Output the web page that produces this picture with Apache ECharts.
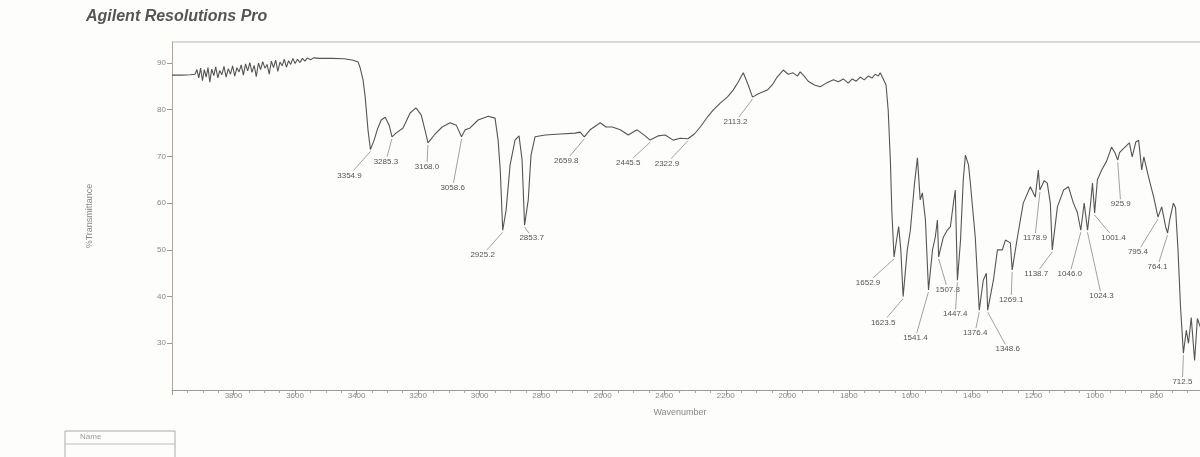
<!DOCTYPE html>
<html lang="en" style="height: 100%">
<head>
  <meta charset="utf-8">
  <script src="https://cdn.jsdelivr.net/npm/echarts/dist/echarts.min.js"></script>
</head>
<body style="height: 100%; margin: 0; background: #fdfdfb">
  <div id="container" style="height: 100%"></div>

  <script type="text/javascript">
    // spectrum (wavenumber cm-1, %T)
    var wavenumber = [
      4000, 3968, 3940, 3925, 3919, 3913, 3907, 3901, 3895, 3889, 3883, 3877, 3871, 3864, 3858, 3851,
      3845, 3838, 3831, 3824, 3817, 3810, 3803, 3796, 3789, 3782, 3775, 3768, 3761, 3754, 3747, 3740,
      3733, 3726, 3719, 3712, 3705, 3698, 3691, 3684, 3677, 3670, 3663, 3656, 3649, 3642, 3635, 3628,
      3621, 3614, 3607, 3600, 3592, 3584, 3576, 3568, 3560, 3550, 3540, 3520, 3480, 3440, 3411, 3395,
      3389, 3379, 3372, 3363, 3355, 3343, 3333, 3320, 3307, 3294, 3285, 3272, 3249, 3226, 3207, 3190,
      3176, 3168, 3145, 3122, 3096, 3076, 3059, 3047, 3031, 3005, 2972, 2950, 2940, 2933, 2925, 2914,
      2901, 2885, 2872, 2862, 2854, 2842, 2833, 2820, 2787, 2738, 2690, 2673, 2660, 2641, 2608, 2589,
      2569, 2543, 2517, 2488, 2462, 2446, 2420, 2397, 2371, 2348, 2323, 2302, 2283, 2260, 2241, 2218,
      2195, 2176, 2160, 2143, 2127, 2113, 2094, 2065, 2049, 2033, 2013, 1997, 1981, 1967, 1958, 1945,
      1932, 1912, 1893, 1873, 1850, 1834, 1818, 1802, 1789, 1776, 1763, 1750, 1737, 1724, 1714, 1704,
      1698, 1688, 1679, 1672, 1665, 1660, 1653, 1645, 1638, 1631, 1623.5, 1610, 1600, 1587, 1577, 1568,
      1561, 1551, 1541, 1528, 1519, 1512, 1508, 1493, 1480, 1470, 1460, 1454, 1447, 1437, 1428, 1421,
      1411, 1405, 1389, 1376, 1363, 1353, 1348.6, 1330, 1317, 1301, 1291, 1275, 1269, 1252, 1233, 1210,
      1194, 1184, 1179, 1165, 1155, 1145, 1138.7, 1122, 1102, 1086, 1070, 1057, 1046, 1035, 1024, 1014,
      1008, 1001, 992, 978, 962, 946, 935, 926, 920, 910, 888, 879, 867, 858, 848, 841,
      826, 809, 795, 783, 770, 764, 757, 745, 738, 730, 722, 712.5, 703, 696, 687, 676,
      667, 655, 645
    ];
    var transmittance = [
      87.4, 87.4, 87.5, 87.6, 88.6, 86.8, 88.9, 86.2, 88.6, 87.0, 89.0, 85.9, 88.7, 87.3, 89.2, 86.8,
      88.4, 87.5, 89.3, 87.0, 88.8, 87.6, 89.4, 87.2, 89.0, 88.1, 89.6, 87.4, 89.8, 88.3, 90.1, 88.0,
      89.5, 87.1, 90.0, 88.6, 90.3, 88.9, 89.7, 87.6, 90.4, 89.0, 90.6, 88.2, 90.2, 89.4, 90.8, 89.1,
      90.5, 89.7, 91.0, 89.9, 90.8, 90.1, 91.0, 90.4, 91.1, 90.7, 91.1, 91.0, 91.0, 90.9, 90.6, 90.2,
      89.1, 86.4, 82.7, 75.7, 71.5, 73.5, 75.7, 77.8, 78.4, 76.7, 74.2, 75.0, 76.1, 79.3, 80.4, 78.9,
      75.2, 72.9, 74.8, 76.3, 77.2, 76.7, 74.2, 75.7, 76.1, 77.8, 78.6, 78.2, 73.5, 67.1, 54.2, 58.5,
      68.2, 73.5, 74.4, 69.2, 55.3, 60.7, 70.3, 74.2, 74.6, 74.8, 75.0, 75.2, 74.2, 75.7, 77.2, 76.3,
      76.3, 75.7, 74.6, 75.7, 74.4, 73.5, 74.4, 74.6, 73.5, 73.9, 73.8, 74.8, 76.3, 78.4, 79.9, 81.4,
      82.7, 84.2, 85.9, 87.9, 85.3, 82.7, 83.4, 84.2, 85.3, 87.0, 88.5, 87.6, 87.9, 87.2, 88.1, 87.2,
      86.1, 85.3, 84.9, 85.7, 86.4, 86.0, 86.6, 85.7, 86.6, 86.1, 87.0, 86.4, 87.2, 86.8, 87.6, 87.2,
      87.9, 86.6, 85.3, 79.9, 69.2, 58.0, 48.5, 52.0, 55.0, 50.0, 40.0, 50.0, 54.2, 63.9, 69.7, 60.7,
      62.2, 56.4, 41.4, 50.0, 52.7, 56.4, 48.5, 52.7, 54.2, 54.9, 60.0, 62.8, 43.5, 52.0, 65.0, 70.3,
      68.2, 64.3, 52.7, 37.1, 43.5, 45.0, 37.1, 43.5, 50.0, 50.0, 52.1, 51.5, 45.7, 52.7, 60.0, 63.5,
      61.3, 67.1, 62.8, 64.8, 64.3, 60.0, 50.0, 59.2, 62.8, 63.5, 60.0, 58.0, 54.2, 60.0, 54.2, 60.0,
      64.3, 57.9, 65.0, 67.1, 69.0, 72.0, 70.8, 69.2, 70.8, 71.5, 72.9, 69.9, 73.1, 73.5, 67.1, 69.9,
      65.7, 61.3, 57.0, 59.2, 54.9, 53.6, 56.4, 60.0, 59.0, 50.0, 38.0, 27.9, 32.8, 30.0, 35.5, 26.3,
      35.3, 33.0, 30.0
    ];

    // picked peaks
    var peakWn = [3354.9, 3285.3, 3168.0, 3058.6, 2925.2, 2853.7, 2659.8, 2445.5, 2322.9, 2113.2,
      1652.9, 1623.5, 1541.4, 1507.8, 1447.4, 1376.4, 1348.6, 1269.1, 1178.9, 1138.7,
      1046.0, 1024.3, 1001.4, 925.9, 795.4, 764.1, 712.5];
    var peakT = [71.5, 74.2, 72.9, 74.2, 54.2, 55.3, 74.2, 73.5, 73.8, 82.7,
      48.5, 40.0, 41.4, 48.5, 43.5, 37.1, 37.1, 45.7, 62.8, 50.0,
      54.2, 54.2, 57.9, 69.2, 57.0, 53.6, 27.9];
    // label placement (px from the peak)
    var labelOffset = [[-21, 26], [-6, 25], [-1, 24], [-9, 51], [-20, 25], [7, 13], [-18, 24], [-22, 23], [-21, 25], [-17, 25],
      [-26, 26], [-20, 26], [-13, 48], [9, 33], [-2, 34], [-4, 23], [20, 39], [-1, 30], [-5, 48], [-16, 24],
      [-11, 44], [14, 66], [19, 25], [3, 44], [-20, 35], [-10, 34], [-1, 29]];

    var dom = document.getElementById('container');
    var myChart = echarts.init(dom, null, { renderer: 'canvas' });

    var data = wavenumber.map(function (w, i) { return [w, transmittance[i]]; });
    var font = 'Liberation Sans, Arial, sans-serif';

    var option = {
      backgroundColor: '#fdfdfb',
      animation: false,
      // plot runs past the right edge of the scan (cropped at ~650 cm-1)
      grid: { left: 172, top: 42, bottom: 67, width: 1046, outerBoundsMode: 'none', containLabel: false },
      xAxis: {
        type: 'value',
        inverse: true,
        min: 600,
        max: 4000,
        interval: 200,
        axisLine: { lineStyle: { color: '#9a9a9a' } },
        axisTick: { length: 5, lineStyle: { color: '#9a9a9a' } },
        minorTick: { show: true, splitNumber: 4, length: 3, lineStyle: { color: '#a8a8a8' } },
        axisLabel: {
          margin: 2, fontSize: 8, color: '#888', fontFamily: font,
          showMinLabel: false, showMaxLabel: false,
          formatter: function (v) { return String(v); }
        },
        splitLine: { show: false }
      },
      yAxis: {
        type: 'value',
        min: 20,
        max: 94.5,
        interval: 10,
        name: '%Transmittance',
        nameLocation: 'middle',
        nameGap: 78,
        nameTextStyle: { fontSize: 9, color: '#888', fontFamily: font },
        axisLine: { show: true, lineStyle: { color: '#b0a88a' } },
        axisTick: { show: true, length: 5, lineStyle: { color: '#9a9a9a' } },
        axisLabel: {
          margin: 6, fontSize: 8, color: '#888', fontFamily: font,
          showMinLabel: false, showMaxLabel: false
        },
        splitLine: { show: false }
      },
      series: [{
        type: 'line',
        data: data,
        showSymbol: false,
        lineStyle: { width: 1.1, color: '#555' }
      }]
    };
    myChart.setOption(option);

    // peak labels with leader lines, plus frame bits
    var graphics = [
      {
        type: 'text', left: 86, top: 9,
        style: { text: 'Agilent Resolutions Pro', font: 'italic bold 16px ' + font, fill: '#555' }
      },
      {
        type: 'line', shape: { x1: 172, y1: 42, x2: 1200, y2: 42 },
        style: { stroke: '#b5b5b5', lineWidth: 1 }
      },
      {
        type: 'text', x: 680, y: 413,
        style: { text: 'Wavenumber', font: '9px ' + font, fill: '#888', align: 'center', verticalAlign: 'middle' }
      },
      {
        type: 'rect', shape: { x: 65, y: 431, width: 110, height: 30 },
        style: { fill: 'none', stroke: '#aaa', lineWidth: 1 }
      },
      {
        type: 'line', shape: { x1: 65, y1: 444, x2: 175, y2: 444 },
        style: { stroke: '#bbb', lineWidth: 1 }
      },
      {
        type: 'text', x: 80, y: 437,
        style: { text: 'Name', font: '8px ' + font, fill: '#999', verticalAlign: 'middle' }
      }
    ];

    peakWn.forEach(function (w, i) {
      var p = myChart.convertToPixel({ gridIndex: 0 }, [w, peakT[i]]);
      var off = labelOffset[i];
      var cx = p[0] + off[0], cy = p[1] + off[1];
      // leader end on the label box edge facing the peak
      var dx = p[0] - cx, dy = p[1] - cy;
      var hw = 18, hh = 5;
      var t = Math.min(dx !== 0 ? hw / Math.abs(dx) : 99, dy !== 0 ? hh / Math.abs(dy) : 99);
      graphics.push({
        type: 'line',
        shape: { x1: p[0], y1: p[1] + 2, x2: cx + dx * t, y2: cy + dy * t },
        style: { stroke: '#8a8a8a', lineWidth: 0.8 }
      });
      graphics.push({
        type: 'text', x: cx, y: cy,
        style: {
          text: w.toFixed(1), font: '8px ' + font, fill: '#555',
          align: 'center', verticalAlign: 'middle'
        }
      });
    });

    myChart.setOption({ graphic: graphics });

    window.addEventListener('resize', myChart.resize);
  </script>
</body>
</html>
